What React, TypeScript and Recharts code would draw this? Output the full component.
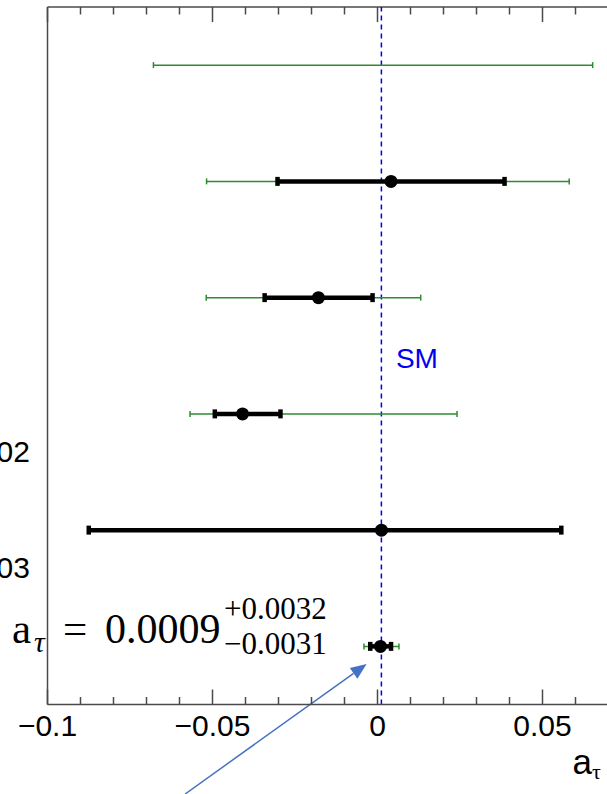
import React from "react";
import {
  ScatterChart,
  Scatter,
  XAxis,
  YAxis,
  ErrorBar,
  ReferenceLine,
  ReferenceDot,
} from "recharts";

// ---------------------------------------------------------------------------
// Data (rows counted from the bottom of the plot)
// ---------------------------------------------------------------------------

const ROWS = [6, 5, 4, 3, 2, 1];
const BEST = [null, 0.0041, -0.0179, -0.0409, 0.0012, 0.0009];
const INNER_LO = [null, -0.0303, -0.0342, -0.0493, -0.0875, -0.0022];
const INNER_HI = [null, 0.0385, -0.0015, -0.0294, 0.0557, 0.0041];
const OUTER_LO = [-0.0679, -0.0518, -0.0519, -0.0568, null, -0.0041];
const OUTER_HI = [0.0652, 0.0581, 0.0131, 0.0241, null, 0.0065];

const SM_VALUE = 0.00118;

const X_DOMAIN = [-0.1, 0.08];
const Y_DOMAIN = [0.5, 6.5];

const MINOR_TICKS = [
  -0.1, -0.09, -0.08, -0.07, -0.06, -0.05, -0.04, -0.03, -0.02, -0.01, 0,
  0.01, 0.02, 0.03, 0.04, 0.05, 0.06, 0.07, 0.08,
];
const MAJOR_TICKS = [-0.1, -0.05, 0, 0.05];
const MAJOR_LABELS = ["\u22120.1", "\u22120.05", "0", "0.05"];

const Y_LABEL_ROWS = [3, 2];
const Y_LABELS = ["PRL 131 (2023) 151802", "PRL 131 (2023) 151803"];

// annotation anchor (start of the central value) and arrow
const NOTE_X = -0.0826;
const NOTE_Y = 1;
const ARROW = [
  { x: -0.0583, y: -0.27 },
  { x: -0.0033, y: 0.848 },
];

const MARGIN = { top: 7, right: 8.5, bottom: 0, left: 0 };
const AXIS_COLOR = "#4a4a4a";
const GREEN = "#2e8b2e";
const SANS = "'Liberation Sans', Arial, Helvetica, sans-serif";
const SERIF = "'Liberation Serif', 'Times New Roman', serif";

// ---------------------------------------------------------------------------
// Series tables
// ---------------------------------------------------------------------------

const outerData = ROWS.flatMap((row, i) => {
  const lo = OUTER_LO[i];
  const hi = OUTER_HI[i];
  if (lo === null || hi === null) return [];
  const x = BEST[i] ?? (lo + hi) / 2;
  return [{ x, y: row, err: [x - lo, hi - x] }];
});

const innerData = ROWS.flatMap((row, i) => {
  const x = BEST[i];
  const lo = INNER_LO[i];
  const hi = INNER_HI[i];
  if (x === null || lo === null || hi === null) return [];
  return [{ x, y: row, err: [x - lo, hi - x] }];
});

// ---------------------------------------------------------------------------
// Custom ticks / shapes
// ---------------------------------------------------------------------------

function majorIndex(v: number) {
  return MAJOR_TICKS.findIndex((m) => Math.abs(m - v) < 1e-9);
}

// bottom axis tick: inward tick, mirrored tick on the top frame, label
function BottomTick(props: any) {
  const { x, y, payload } = props;
  const top = MARGIN.top;
  const idx = majorIndex(payload.value);
  const len = idx >= 0 ? 15 : 7.5;
  return (
    <g>
      <line x1={x} y1={y} x2={x} y2={y - len} stroke={AXIS_COLOR} strokeWidth={1.5} />
      <line x1={x} y1={top} x2={x} y2={top + len} stroke={AXIS_COLOR} strokeWidth={1.5} />
      {idx >= 0 && (
        <text x={x} y={y + 31} textAnchor="middle" fontSize={30} fontFamily={SANS} fill="#000">
          {MAJOR_LABELS[idx]}
        </text>
      )}
    </g>
  );
}

function LeftTick(props: any) {
  const { x, y, payload } = props;
  const i = Y_LABEL_ROWS.indexOf(payload.value);
  if (i < 0) return <g />;
  return (
    <text x={x - 17.5} y={y + 48} textAnchor="end" fontSize={30} fontFamily={SANS} fill="#000">
      {Y_LABELS[i]}
    </text>
  );
}

function AxisTitle(props: any) {
  const vb = props.viewBox || { x: 0, y: 0, width: 0, height: 0 };
  const x = vb.x + vb.width - 69;
  const y = vb.y + 69;
  return (
    <text x={x} y={y} fontFamily={SANS} fill="#000">
      <tspan fontSize={35}>a</tspan>
      <tspan fontSize={22} dy={5} fontFamily={SERIF}>
        τ
      </tspan>
    </text>
  );
}

function ArrowShape(props: any) {
  let { x1, y1, x2, y2 } = props;
  if (y1 < y2) {
    [x1, y1, x2, y2] = [x2, y2, x1, y1];
  }
  const dx = x2 - x1;
  const dy = y2 - y1;
  const len = Math.sqrt(dx * dx + dy * dy) || 1;
  const ux = dx / len;
  const uy = dy / len;
  const head = 16;
  const half = 6.5;
  const bx = x2 - ux * head;
  const by = y2 - uy * head;
  const pts = [
    [x2, y2],
    [bx - uy * half, by + ux * half],
    [bx + uy * half, by - ux * half],
  ]
    .map((p) => p.join(","))
    .join(" ");
  return (
    <g>
      <line x1={x1} y1={y1} x2={bx} y2={by} stroke="#4472c4" strokeWidth={1.5} />
      <polygon points={pts} fill="#4472c4" />
    </g>
  );
}

function SmLabel(props: any) {
  const { cx, cy } = props;
  return (
    <text x={cx + 14.5} y={cy + 12} fontSize={28} fontFamily={SANS} fill="#0000ee">
      SM
    </text>
  );
}

function NoteLabel(props: any) {
  const { cx, cy } = props;
  return (
    <g fontFamily={SERIF} fill="#000">
      <text x={cx - 93} y={cy - 3} fontSize={43}>
        a
      </text>
      <text x={cx - 71} y={cy + 6} fontSize={30} fontStyle="italic">
        τ
      </text>
      <text x={cx - 42} y={cy - 3} fontSize={43}>
        =
      </text>
      <text x={cx} y={cy - 3} fontSize={42}>
        0.0009
      </text>
      <text x={cx + 119} y={cy - 27} fontSize={31}>
        +0.0032
      </text>
      <text x={cx + 119} y={cy + 8} fontSize={31}>
        {"\u22120.0031"}
      </text>
    </g>
  );
}

// ---------------------------------------------------------------------------
// Component
// ---------------------------------------------------------------------------

export default function App() {
  return (
    <div
      style={{
        position: "fixed",
        left: 0,
        top: 0,
        width: 607,
        height: 794,
        overflow: "hidden",
        background: "#fff",
      }}
    >
      <ScatterChart width={650} height={794} margin={MARGIN}>
        <XAxis
          xAxisId="bottom"
          type="number"
          dataKey="x"
          domain={X_DOMAIN}
          allowDataOverflow
          ticks={MINOR_TICKS}
          interval={0}
          tickSize={0}
          tickMargin={0}
          tickLine={false}
          tick={<BottomTick />}
          height={89.5}
          axisLine={{ stroke: AXIS_COLOR, strokeWidth: 1.5 }}
          label={{ content: <AxisTitle /> }}
        />
        <YAxis
          yAxisId="y"
          type="number"
          dataKey="y"
          domain={Y_DOMAIN}
          allowDataOverflow
          ticks={Y_LABEL_ROWS}
          interval={0}
          tickSize={0}
          tickMargin={0}
          tickLine={false}
          tick={<LeftTick />}
          width={47.5}
          axisLine={{ stroke: AXIS_COLOR, strokeWidth: 1.5 }}
        />
        {/* top frame */}
        <ReferenceLine
          xAxisId="bottom"
          yAxisId="y"
          y={Y_DOMAIN[1]}
          stroke={AXIS_COLOR}
          strokeWidth={1.5}
          ifOverflow="visible"
        />
        <ReferenceLine
          xAxisId="bottom"
          yAxisId="y"
          x={SM_VALUE}
          stroke="#0000ee"
          strokeWidth={1.5}
          strokeDasharray="5 4"
        />
        <Scatter
          xAxisId="bottom"
          yAxisId="y"
          data={outerData}
          isAnimationActive={false}
          shape={() => <g />}
        >
          <ErrorBar
            dataKey="err"
            direction="x"
            width={3}
            stroke={GREEN}
            strokeWidth={1.5}
            isAnimationActive={false}
          />
        </Scatter>
        <Scatter
          xAxisId="bottom"
          yAxisId="y"
          data={innerData}
          isAnimationActive={false}
          shape={(p: any) => <circle cx={p.cx} cy={p.cy} r={6.5} fill="#000" />}
        >
          <ErrorBar
            dataKey="err"
            direction="x"
            width={4.5}
            stroke="#000"
            strokeWidth={4.5}
            isAnimationActive={false}
          />
        </Scatter>
        <ReferenceDot
          xAxisId="bottom"
          yAxisId="y"
          x={SM_VALUE}
          y={3.5}
          r={0}
          ifOverflow="visible"
          shape={<SmLabel />}
        />
        <ReferenceDot
          xAxisId="bottom"
          yAxisId="y"
          x={NOTE_X}
          y={NOTE_Y}
          r={0}
          ifOverflow="visible"
          shape={<NoteLabel />}
        />
        <ReferenceLine
          xAxisId="bottom"
          yAxisId="y"
          segment={ARROW}
          ifOverflow="visible"
          shape={<ArrowShape />}
        />
      </ScatterChart>
    </div>
  );
}
